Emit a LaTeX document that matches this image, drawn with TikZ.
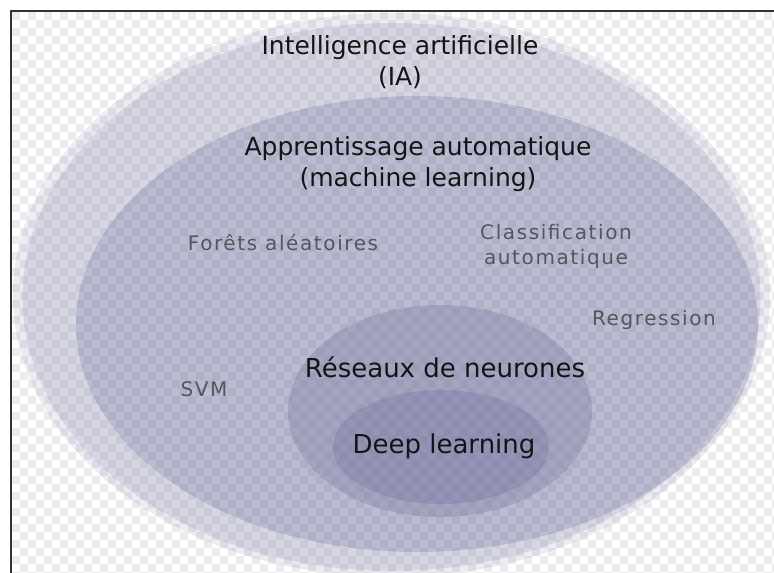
\documentclass[tikz,border=0pt]{standalone}
\usepackage{fontspec}
\setmainfont{DejaVu Sans}
\usepackage{xcolor}
\usetikzlibrary{positioning}

\definecolor{zonecol}{RGB}{100,100,150}
\definecolor{checkcol}{RGB}{236,236,238}
\definecolor{smalltext}{RGB}{85,85,90}

\begin{document}
\begin{tikzpicture}[x=1pt, y=-1pt,
  zone/.style = {fill=zonecol, fill opacity=0.25},
  rim/.style = {fill=zonecol, fill opacity=0.12},
  big/.style = {font=\fontsize{25}{31}\selectfont, text=black!92, align=center},
  mid/.style = {font=\fontsize{26}{31}\selectfont, text=black!92, align=center},
  small/.style = {font=\fontsize{20}{25}\selectfont\addfontfeature{LetterSpace=8}, text=smalltext, align=center}]
      \useasboundingbox (0,0) rectangle (774,573);
      \fill[white] (0,0) rectangle (774,573);

      % checker background
      \begin{scope}
        \clip (12,12) rectangle (774,573);
        \foreach \r in {0,...,70} {
          \pgfmathsetmacro\s{mod(\r,2)}
          \foreach \c in {0,2,...,96}
            \fill[checkcol] (12+8*\c+8*\s, 12+8*\r) rectangle +(8,8);
        }
      \end{scope}
      \draw[black!80, line width=2pt] (11,573) -- (11,11) -- (774,11);

      % nested zones
      \begin{scope}
        \clip (12,12) rectangle (774,573);
        \fill[rim]  (391.5,295) ellipse [x radius=378.5pt, y radius=282pt];
        \fill[zone, fill opacity=0.15] (391.5,297) ellipse [x radius=369pt, y radius=274pt];
        \fill[zone] (417,324) ellipse [x radius=341pt, y radius=228pt];
        \fill[zone] (440,411) ellipse [x radius=152pt, y radius=106pt];
        \fill[zone] (441,447) ellipse [x radius=108pt, y radius=57pt];
      \end{scope}

      \node[big]   (1) at (400,62)  {Intelligence artificielle\\(IA)};
      \node[big]   (2) at (418,164) {Apprentissage automatique\\(machine learning)};
      \node[small] (3) at (283,243) {Forêts aléatoires};
      \node[small] (4) at (556,246) {Classification\\automatique};
      \node[small] (5) at (654,320) {Regression};
      \node[small] (6) at (204,389) {SVM};
      \node[mid]   (7) at (445,367) {Réseaux de neurones};
      \node[mid]   (8) at (444,446) {Deep learning};

    \end{tikzpicture}
\end{document}
